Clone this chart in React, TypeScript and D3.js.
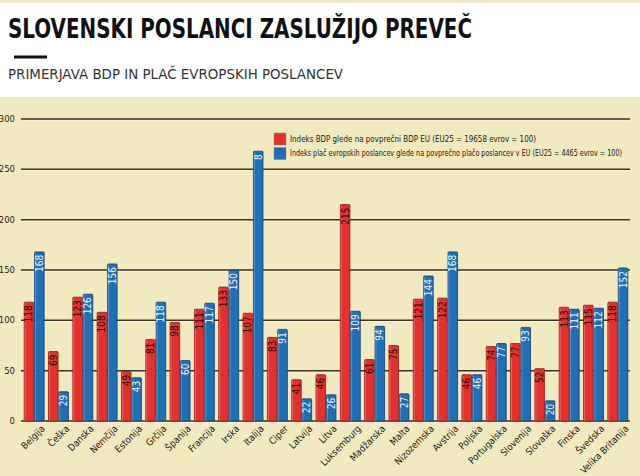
import * as d3 from 'd3'

const countries = [
  'Belgija', 'Češka', 'Danska', 'Nemčija', 'Estonija', 'Grčija', 'Španija', 'Francija', 'Irska',
  'Italija', 'Ciper', 'Latvija', 'Litva', 'Luksemburg', 'Madžarska', 'Malta', 'Nizozemska',
  'Avstrija', 'Poljska', 'Portugalska', 'Slovenija', 'Slovaška', 'Finska', 'Švedska', 'Velika Britanija',
]
const gdpIndex = [118, 69, 123, 108, 49, 81, 98, 111, 133, 107, 83, 41, 46, 215, 61, 75, 121, 122, 46, 74, 77, 52, 113, 115, 118]
const payIndex = [168, 29, 126, 156, 43, 118, 60, 117, 150, 268, 91, 22, 26, 109, 94, 27, 144, 168, 46, 77, 93, 20, 111, 112, 152]
// the printed label on Italy's blue bar is cut off to "8" in the original
const payLabels = payIndex.map((v, i) => (countries[i] === 'Italija' ? '8' : String(v)))
const yTicks = [0, 50, 100, 150, 200, 250, 300]
const legendItems = [
  { color: '#e5302e', text: 'Indeks BDP glede na povprečni BDP EU (EU25 = 19658 evrov = 100)', len: 246 },
  { color: '#1e6fb6', text: 'Indeks plač evropskih poslancev glede na povprečno plačo poslancev v EU (EU25 = 4465 evrov = 100)', len: 332 },
]

const W = 640
const H = 476
const narrow = '"Liberation Sans Narrow", "DejaVu Sans Condensed", "Roboto", sans-serif'

export default function App() {
  const x = d3.scaleBand<string>().domain(countries).range([22, 630]).paddingInner(0.18).paddingOuter(0.09)
  const sub = d3.scaleBand<string>().domain(['gdp', 'pay']).range([0, x.bandwidth()]).paddingInner(0.08)
  const y = d3.scaleLinear().domain([0, 300]).range([421, 119])

  const series = [
    { key: 'gdp', values: gdpIndex, labels: gdpIndex.map(String), fill: '#e5302e', stroke: '#8e1a18', text: '#2a0c0a' },
    { key: 'pay', values: payIndex, labels: payLabels, fill: '#1e6fb6', stroke: '#123f6e', text: '#eef4ff' },
  ]

  return (
    <svg width={W} height={H} style={{ position: 'absolute', left: 0, top: 0 }}>
      <rect x={0} y={0} width={W} height={H} fill="#f1e9bf" />
      <rect x={0} y={2.5} width={W} height={94.5} fill="#ffffff" />

      <text x={8} y={38} fontFamily='"DejaVu Sans Condensed", "DejaVu Sans", sans-serif' fontWeight="bold"
        fontSize={26.5} fill="#111" textLength={464} lengthAdjust="spacingAndGlyphs">
        SLOVENSKI POSLANCI ZASLUŽIJO PREVEČ
      </text>
      <rect x={14} y={55.5} width={33} height={3} fill="#111" />
      <text x={8} y={79} fontFamily='"DejaVu Sans", sans-serif' fontSize={13.5} fill="#333"
        textLength={335} lengthAdjust="spacingAndGlyphs">
        PRIMERJAVA BDP IN PLAČ EVROPSKIH POSLANCEV
      </text>

      {/* grid and y axis */}
      {yTicks.map((t) => (
        <g key={t}>
          <line x1={21} x2={630} y1={y(t) + 1.2} y2={y(t) + 1.2} stroke="#fbf6dc" strokeWidth={1} />
          <line x1={21} x2={630} y1={y(t)} y2={y(t)} stroke="#3b3322" strokeWidth={1.5} />
          <text x={15} y={y(t)} dy="0.35em" textAnchor="end" fontFamily='"DejaVu Sans", sans-serif'
            fontSize={8.5} fill="#2a2418">
            {t}
          </text>
        </g>
      ))}

      {/* bars */}
      {countries.map((c, i) => (
        <g key={c} transform={`translate(${x(c)},0)`}>
          {series.map((s) => {
            const bx = sub(s.key) ?? 0
            const bw = sub.bandwidth()
            const top = y(s.values[i])
            const cx = bx + bw / 2
            return (
              <g key={s.key}>
                <rect x={bx} y={top} width={bw} height={y(0) - top} fill={s.fill} stroke={s.stroke}
                  strokeWidth={0.8} rx={0.8} />
                <line x1={bx + 0.9} x2={bx + 0.9} y1={top + 1} y2={y(0)} stroke="#ffffff" strokeOpacity={0.35}
                  strokeWidth={0.8} />
                <text transform={`translate(${cx},${top + 3}) rotate(-90)`} textAnchor="end" dy="0.35em"
                  fontFamily={narrow} fontSize={10} fill={s.text}>
                  {s.labels[i]}
                </text>
              </g>
            )
          })}
        </g>
      ))}

      {/* x labels */}
      {countries.map((c) => (
        <text key={c} transform={`translate(${(x(c) ?? 0) + x.bandwidth() / 2 + 9},${y(0) + 6}) rotate(-45)`}
          textAnchor="end" dy="0.35em" fontFamily={narrow} fontSize={9.5} fill="#1f1a10">
          {c}
        </text>
      ))}

      {/* legend */}
      {legendItems.map((l, i) => (
        <g key={l.text} transform={`translate(274,${133 + i * 14.5})`}>
          <rect x={0} y={0} width={12} height={12} fill={l.color} stroke="#8a8a70" strokeWidth={0.5} />
          <text x={16} y={6} dy="0.35em" fontFamily={narrow} fontSize={8.5} fill="#1f1a10"
            textLength={l.len} lengthAdjust="spacingAndGlyphs">
            {l.text}
          </text>
        </g>
      ))}
    </svg>
  )
}
